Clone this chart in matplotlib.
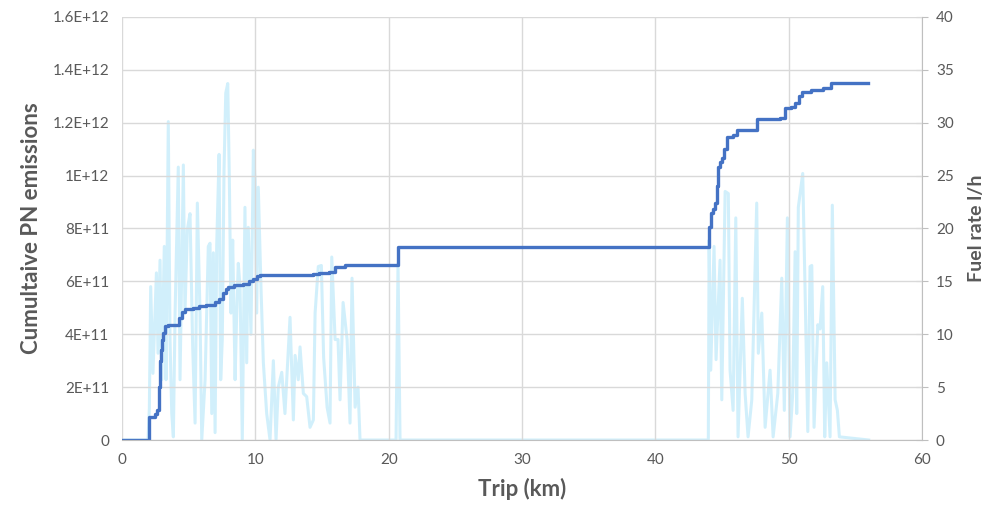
import matplotlib
matplotlib.use("Agg")
from matplotlib import pyplot as plt

plt.rcParams['font.family'] = ['Lato', 'DejaVu Sans']

# cumulative PN emissions: level reached from each km onward
pn_km = [0, 2.05, 2.5, 2.65, 2.75, 2.82, 2.88, 2.95, 3.02, 3.07, 3.25, 3.45,
         4.3, 4.5, 4.7, 5.3, 5.8, 6.3, 7.0, 7.3, 7.6, 7.8, 7.95, 8.4, 9.1,
         9.5, 9.8, 10.1, 10.35, 14.3, 14.8, 15.5, 16.0, 16.7, 20.7, 44.0,
         44.2, 44.35, 44.5, 44.6, 44.7, 44.85, 45.0, 45.15, 45.35, 45.85,
         46.1, 47.6, 49.35, 49.7, 50.2, 50.5, 50.8, 51.0, 51.7, 52.6, 53.2,
         55.95]
pn_cum = [0, 0.87e11, 1.0e11, 1.13e11, 2.0e11, 2.6e11, 3.0e11, 3.4e11,
          3.8e11, 4.05e11, 4.3e11, 4.35e11, 4.6e11, 4.85e11, 4.95e11, 5.0e11,
          5.05e11, 5.1e11, 5.2e11, 5.35e11, 5.55e11, 5.7e11, 5.8e11, 5.85e11,
          5.9e11, 6.0e11, 6.1e11, 6.2e11, 6.25e11, 6.28e11, 6.32e11, 6.37e11,
          6.55e11, 6.6e11, 7.3e11, 8.07e11, 8.57e11, 8.75e11, 8.95e11,
          9.6e11, 1.034e12, 1.05e12, 1.065e12, 1.1e12, 1.147e12, 1.153e12,
          1.172e12, 1.213e12, 1.216e12, 1.254e12, 1.26e12, 1.273e12, 1.3e12,
          1.315e12, 1.324e12, 1.33e12, 1.351e12, 1.351e12]

# fuel rate (l/h)
fuel_km = [0, 1.95, 2.05, 2.15, 2.32, 2.58, 2.70, 2.85, 2.98, 3.17, 3.30, 3.47,
           3.60, 3.73, 3.85, 3.98, 4.22, 4.35, 4.60, 4.72, 4.90, 5.10, 5.30,
           5.48, 5.65, 5.85, 5.98, 6.23, 6.35, 6.47, 6.60, 6.73, 6.85, 6.98,
           7.10, 7.28, 7.40, 7.52, 7.65, 7.78, 7.93, 8.05, 8.17, 8.30, 8.48,
           8.60, 8.72, 8.85, 9.02, 9.22, 9.35, 9.47, 9.67, 9.85, 9.98, 10.10,
           10.22, 10.42, 10.60, 10.85, 11.10, 11.35, 11.55, 11.72, 11.98,
           12.22, 12.60, 12.85, 12.98, 13.22, 13.35, 13.60, 13.85, 14.10,
           14.35, 14.48, 14.72, 14.95, 15.12, 15.38, 15.60, 15.73, 15.98,
           16.20, 16.35, 16.58, 16.88, 17.10, 17.25, 17.48, 17.70, 17.85,
           20.55, 20.70, 20.85,
           43.97, 44.03, 44.15, 44.40, 44.55, 44.85, 44.98, 45.23, 45.47,
           45.60, 45.83, 46.03, 46.20, 46.52, 46.73, 46.95, 47.23, 47.60,
           47.72, 47.98, 48.23, 48.60, 48.83, 49.18, 49.30, 49.48, 49.67,
           49.90, 50.10, 50.30, 50.48, 50.60, 50.72, 51.05, 51.23, 51.43,
           51.60, 51.73, 51.90, 52.18, 52.35, 52.55, 52.70, 52.85, 53.10,
           53.27, 53.48, 53.65, 53.80, 56.0]
fuel_rate = [0, 0, 3.0, 14.5, 6.3, 15.8, 8.2, 17.0, 5.7, 18.3, 5.7, 30.1,
             9.5, 2.5, 0.3, 12.0, 25.8, 5.7, 26.0, 12.0, 19.9, 21.4, 8.8,
             1.6, 22.4, 12.0, 0.0, 5.7, 12.0, 18.3, 18.6, 2.5, 17.7, 0.7,
             18.3, 27.0, 5.7, 9.5, 25.5, 32.8, 33.7, 24.6, 12.0, 18.9, 5.7,
             12.0, 16.7, 14.5, 0.0, 22.0, 7.3, 20.1, 10.0, 27.4, 24.6, 12.0,
             23.9, 14.5, 7.3, 2.5, 0.0, 7.5, 0.0, 5.0, 6.4, 2.5, 11.6, 1.9,
             8.0, 5.7, 8.8, 4.4, 4.1, 1.2, 1.9, 12.0, 16.4, 16.5, 7.8, 3.1,
             1.6, 17.3, 9.5, 9.5, 3.8, 13.0, 9.5, 1.6, 15.3, 3.1, 5.0, 0.0,
             0.0, 16.7, 0.0,
             0.0, 18.9, 6.6, 18.3, 7.6, 17.0, 3.8, 23.5, 23.3, 6.6, 2.8,
             21.0, 0.3, 13.4, 4.4, 0.3, 3.8, 22.4, 8.2, 12.0, 1.2, 6.6, 0.3,
             4.4, 8.8, 15.3, 2.8, 21.0, 0.3, 4.4, 17.8, 2.5, 22.0, 25.2, 13.9,
             0.8, 16.4, 16.5, 1.2, 10.9, 10.5, 14.5, 0.3, 7.3, 0.3, 22.2, 3.8,
             2.8, 0.3, 0.0]

x_ticks = [0, 10, 20, 30, 40, 50, 60]
pn_ticks = [0, 2e11, 4e11, 6e11, 8e11, 1e12, 1.2e12, 1.4e12, 1.6e12]
pn_labels = ['0', '2E+11', '4E+11', '6E+11', '8E+11', '1E+12', '1.2E+12',
             '1.4E+12', '1.6E+12']
fuel_ticks = [0, 5, 10, 15, 20, 25, 30, 35, 40]

txt = '#595959'
grid = '#d9d9d9'

fig, ax = plt.subplots(figsize=(9.92, 5.12), dpi=100)
fig.subplots_adjust(left=0.123, right=0.9295, top=0.967, bottom=0.1406)
ax2 = ax.twinx()

ax2.plot(fuel_km, fuel_rate, color='#c6ecfa', lw=2.2, alpha=0.8)
ax.plot(pn_km, pn_cum, color='#4472c4', lw=2.4, drawstyle='steps-post')

ax.set_zorder(ax2.get_zorder() + 1)
ax.patch.set_visible(False)

ax.set_xlim(0, 60)
ax.set_ylim(0, 1.6e12)
ax2.set_ylim(0, 40)
ax.set_xticks(x_ticks)
ax.set_yticks(pn_ticks)
ax.set_yticklabels(pn_labels)
ax2.set_yticks(fuel_ticks)

ax.grid(True, color=grid, lw=1)
ax.set_axisbelow(True)

for a in (ax, ax2):
    for s in a.spines.values():
        s.set_visible(False)
ax.spines['bottom'].set_visible(True)
ax.spines['bottom'].set_color('#bfbfbf')
ax2.spines['right'].set_visible(True)
ax2.spines['right'].set_color('#bfbfbf')

ax.tick_params(axis='both', length=0, labelsize=11, labelcolor=txt, pad=9)
ax2.tick_params(axis='y', direction='inout', length=8, color='#bfbfbf',
                labelsize=11, labelcolor=txt, pad=6)

ax.set_xlabel('Trip (km)', fontsize=16, fontweight='bold', color=txt, labelpad=8)
ax.set_ylabel('Cumultaive PN emissions', fontsize=16, fontweight='bold',
              color=txt, labelpad=8)
ax2.set_ylabel('Fuel rate l/h', fontsize=14, fontweight='bold', color=txt,
               labelpad=10)

fig.savefig('out.png')
